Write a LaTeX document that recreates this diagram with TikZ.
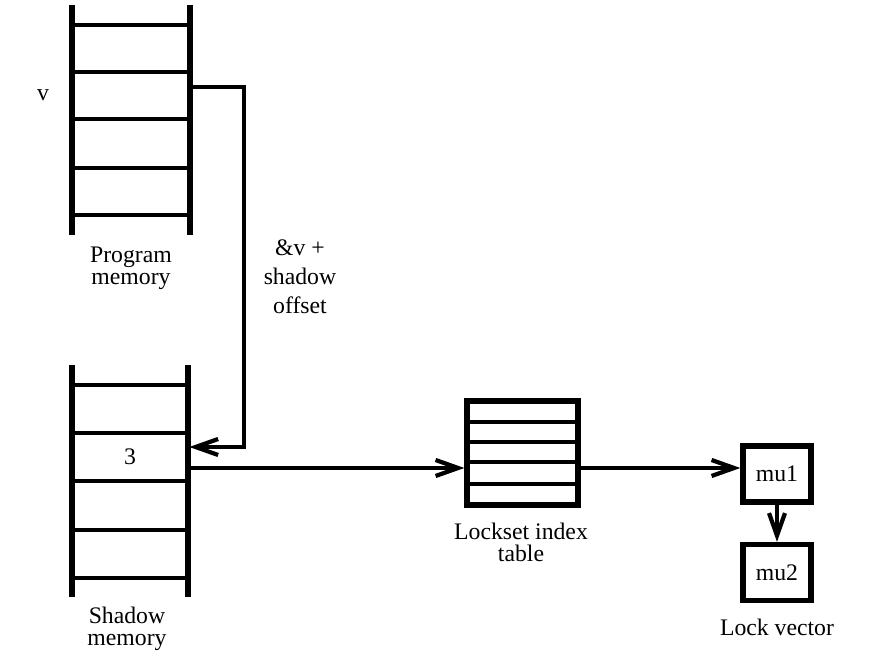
\documentclass[tikz,border=0pt]{standalone}
\usepackage{fontspec}
\setmainfont{Liberation Serif}
\usetikzlibrary{arrows.meta}

\tikzset{
  rail/.style={line width=3pt},
  rung/.style={line width=2.4pt},
  cell/.style={rectangle, inner sep=0pt, minimum width=2.36cm, minimum height=0.94cm},
  lockbox/.style={rectangle, draw, line width=3pt, inner sep=0pt, minimum width=1.36cm, minimum height=1.12cm},
  arr/.style={line width=2.4pt, -{Straight Barb[length=4.5mm, width=3.2mm, line width=2.4pt]}},
  lbl/.style={align=center, font=\fontsize{13.5}{12.5}\selectfont, inner sep=0pt}
}

\begin{document}
\begin{tikzpicture}[x=0.02cm, y=-0.02cm]
        \useasboundingbox (0,0) rectangle (890,668);

        % Program memory
        \draw[rail] (72,5) -- (72,235);
        \draw[rail] (190,5) -- (190,235);
        \foreach \y in {25,72,119,168,215}
            \draw[rung] (72,\y) -- (190,\y);
        \node (vcell) [cell] at (131,95) {};
        \node (vname) [lbl] at (43,95) {v};
        \node (pmlabel) [lbl] at (131,268) {Program\\memory};

        % Shadow memory
        \draw[rail] (72,365) -- (72,597);
        \draw[rail] (188,365) -- (188,597);
        \foreach \y in {385,433,481,530,578}
            \draw[rung] (72,\y) -- (188,\y);
        \node (s3) [cell, lbl] at (130,457) {3};
        \node (smlabel) [lbl] at (127,629) {Shadow\\memory};

        % Lockset index table
        \node (lit) [rectangle, draw, line width=3pt, inner sep=0pt, minimum width=2.22cm, minimum height=2.08cm] at (522.5,453) {};
        \foreach \y in {422,442,462,484}
            \draw[rung] (467,\y) -- (578,\y);
        \node (litlabel) [lbl] at (521,542) {Lockset index\\table};

        % Lock vector
        \node (mu1) [lockbox, lbl] at (777,474) {mu1};
        \node (mu2) [lockbox, lbl] at (777,572.5) {mu2};
        \node (lvlabel) [lbl] at (777,627) {Lock vector};

        % Edges
        \coordinate (bend) at (244,87);
        \node (offset) [lbl] at (300,277) {\&v +\\[4pt]shadow\\[4pt]offset};
        \draw[arr] (vcell.east |- bend) -- (bend) |- ([yshift=0.2cm]s3.east);
        \draw[arr] ([yshift=-0.22cm]s3.east) -- ([yshift=-0.22cm]s3.east -| lit.west);
        \draw[arr] ([yshift=-0.3cm]lit.east) -- ([yshift=-0.3cm]lit.east -| mu1.west);
        \draw[arr] (mu1) -- (mu2);

\end{tikzpicture}
\end{document}
